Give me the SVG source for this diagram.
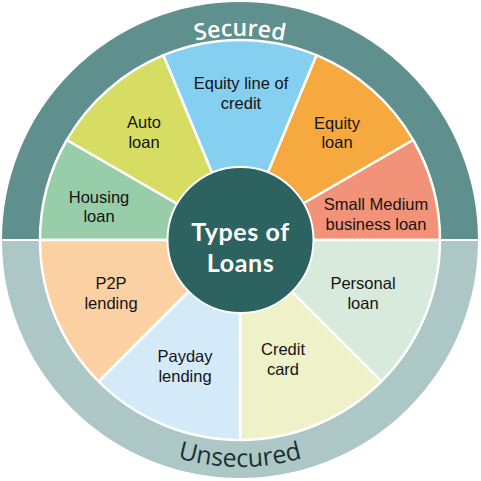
<svg xmlns="http://www.w3.org/2000/svg" width="481" height="481" viewBox="0 0 481 481">
<style>
.wedge{stroke:#ffffff;stroke-width:2.5;stroke-linejoin:round}
.lbl{font-family:"Liberation Sans",Arial,sans-serif;font-size:16.5px;fill:#141414;text-anchor:middle}
.title{font-family:Lato,"Open Sans",sans-serif;font-weight:bold;font-size:25px;letter-spacing:0.6px;fill:#ffffff;text-anchor:middle}
.ring{font-family:"Open Sans",Lato,sans-serif;text-anchor:middle}
</style>
<defs>
<path id="arcTop" d="M36,240 A204,204 0 0 1 444,240"/>
<path id="arcBot" d="M13,240 A227,227 0 0 0 467,240"/>
</defs>
<g id="ring">
<path d="M1,240 A239,239 0 0 1 479,240 Z" fill="#5f908e" stroke="#ffffff" stroke-width="2"/>
<path d="M1,240 A239,239 0 0 0 479,240 Z" fill="#adc7c7" stroke="#ffffff" stroke-width="2"/>
<text class="ring" fill="#ffffff" style="font-size:23px;font-weight:600"><textPath href="#arcTop" startOffset="50%">Secured</textPath></text>
<text class="ring" fill="#17332f" style="font-size:25px"><textPath href="#arcBot" startOffset="50%">Unsecured</textPath></text>
</g>
<g id="housing">
<path class="wedge" fill="#98cdaa" d="M240,240 L40,240 A200,200 0 0 1 66.8,140 Z"/>
<text class="lbl" x="99" y="203">Housing</text><text class="lbl" x="99" y="222">loan</text>
</g>
<g id="auto">
<path class="wedge" fill="#d7dd63" d="M240,240 L66.8,140 A200,200 0 0 1 163.5,55.2 Z"/>
<text class="lbl" x="144" y="128">Auto</text><text class="lbl" x="144" y="148">loan</text>
</g>
<g id="equity-line">
<path class="wedge" fill="#85cff0" d="M240,240 L163.5,55.2 A200,200 0 0 1 316.5,55.2 Z"/>
<text class="lbl" x="241" y="89">Equity line of</text><text class="lbl" x="241" y="109">credit</text>
</g>
<g id="equity">
<path class="wedge" fill="#f5a93f" d="M240,240 L316.5,55.2 A200,200 0 0 1 413.2,140 Z"/>
<text class="lbl" x="337" y="129">Equity</text><text class="lbl" x="337" y="148">loan</text>
</g>
<g id="small-medium">
<path class="wedge" fill="#f29379" d="M240,240 L413.2,140 A200,200 0 0 1 440,240 Z"/>
<text class="lbl" x="376" y="210">Small Medium</text><text class="lbl" x="376" y="230">business loan</text>
</g>
<g id="personal">
<path class="wedge" fill="#d7eadc" d="M240,240 L440,240 A200,200 0 0 1 381.4,381.4 Z"/>
<text class="lbl" x="363" y="289">Personal</text><text class="lbl" x="363" y="309">loan</text>
</g>
<g id="credit-card">
<path class="wedge" fill="#eff1c9" d="M240,240 L381.4,381.4 A200,200 0 0 1 240,440 Z"/>
<text class="lbl" x="283" y="355">Credit</text><text class="lbl" x="283" y="375">card</text>
</g>
<g id="payday">
<path class="wedge" fill="#d4eaf8" d="M240,240 L240,440 A200,200 0 0 1 98.6,381.4 Z"/>
<text class="lbl" x="185" y="362">Payday</text><text class="lbl" x="185" y="382">lending</text>
</g>
<g id="p2p">
<path class="wedge" fill="#fbd1a4" d="M240,240 L98.6,381.4 A200,200 0 0 1 40,240 Z"/>
<text class="lbl" x="111" y="289">P2P</text><text class="lbl" x="111" y="309">lending</text>
</g>
<g id="center">
<circle cx="240.5" cy="240" r="73" fill="#2c6360" stroke="#ffffff" stroke-width="2"/>
<text class="title" x="240.5" y="241">Types of</text>
<text class="title" x="240.5" y="272">Loans</text>
</g>
</svg>
